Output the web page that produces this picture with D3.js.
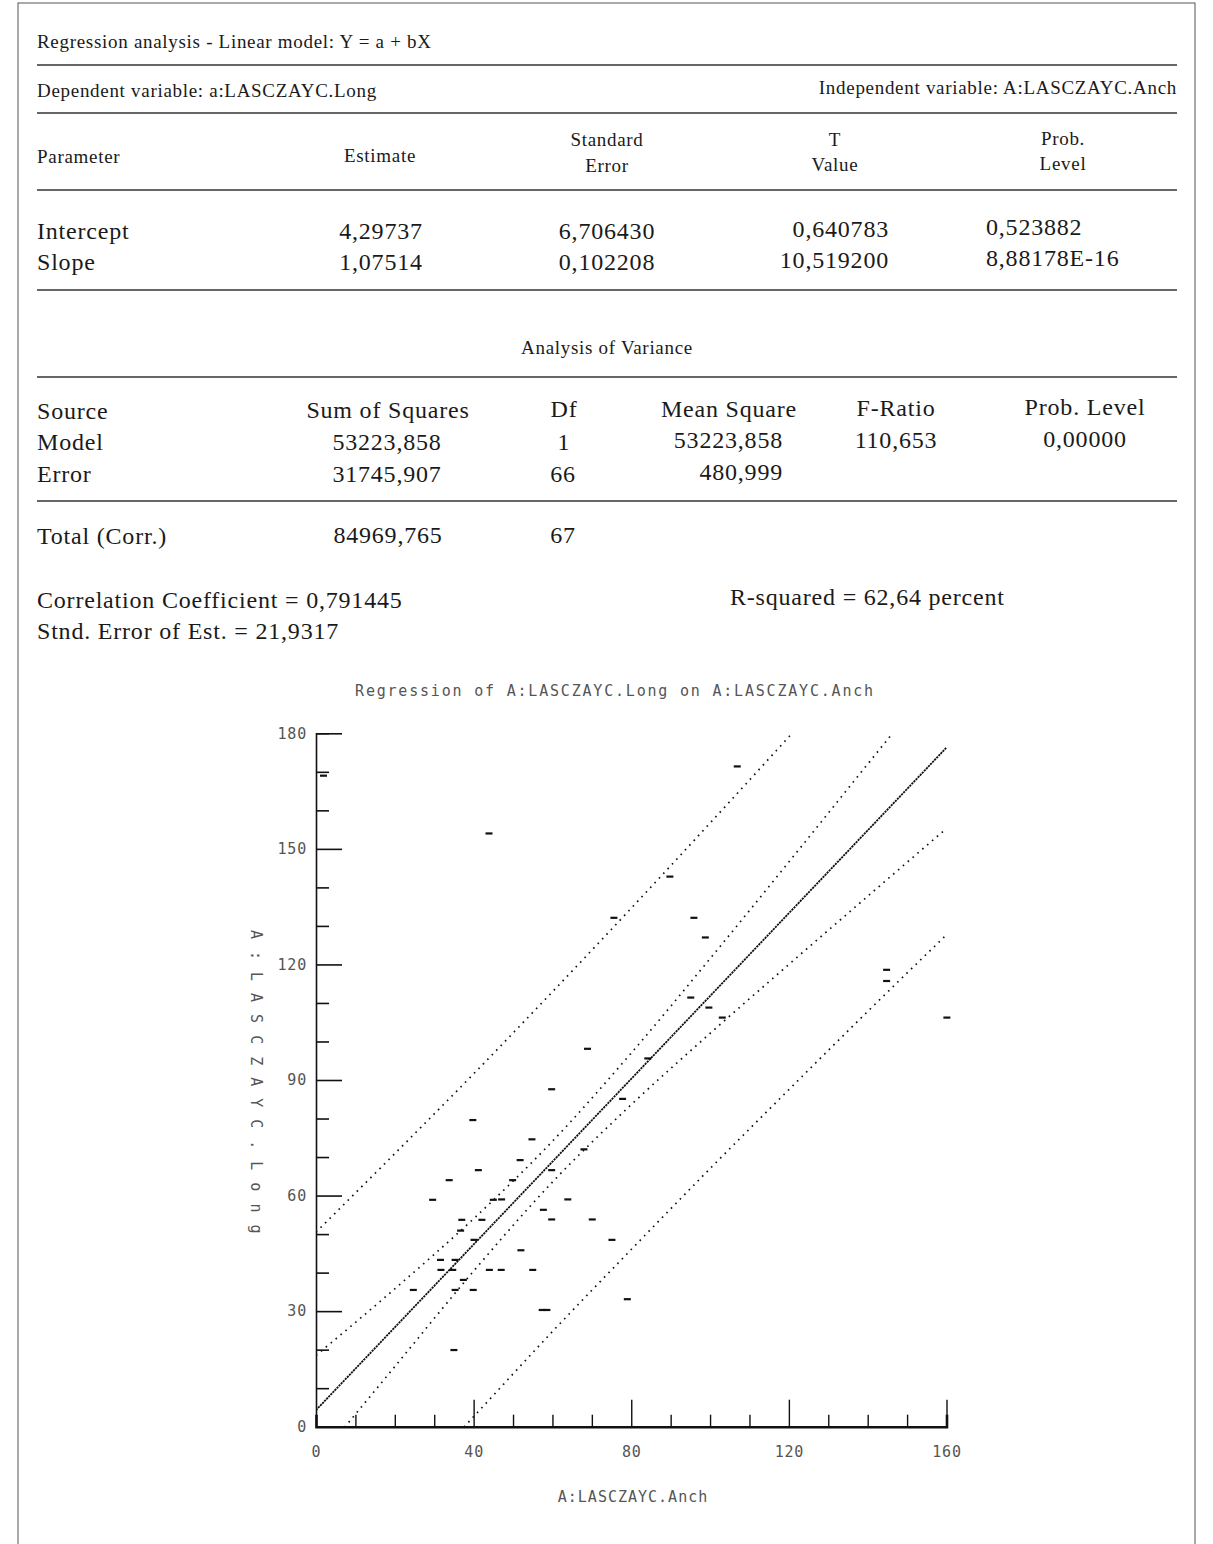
<!DOCTYPE html>
<html lang="en">
  <head>
    <title>Regression analysis</title>
    <script src="https://d3js.org/d3.v7.min.js"></script>
    <style>
      body { margin: 0; background: #fff; }
      .serif { font-family: "Liberation Serif", "DejaVu Serif", serif; fill: #1a1a1a; }
      .mono { font-family: "DejaVu Sans Mono", "Liberation Mono", monospace; fill: #555; }
      .rule { stroke: #333; stroke-width: 1.3; }
    </style>
  </head>
  <body>
    <svg id="page" width="1213" height="1544"></svg>

    <script>
      // report tables
      var paramNames = ["Intercept", "Slope"];
      var estimates = ["4,29737", "1,07514"];
      var stdErrors = ["6,706430", "0,102208"];
      var tValues = ["0,640783", "10,519200"];
      var probLevels = ["0,523882", "8,88178E-16"];

      var anovaSources = ["Model", "Error"];
      var sumSquares = ["53223,858", "31745,907"];
      var dfs = ["1", "66"];
      var meanSquares = ["53223,858", "480,999"];
      var fRatios = ["110,653", ""];
      var anovaProbs = ["0,00000", ""];

      // scatter: A:LASCZAYC.Anch (x) vs A:LASCZAYC.Long (y)
      var anch = [1.9, 43.9, 106.9, 89.8, 75.6, 95.9, 98.8, 95.1, 99.7, 103.1,
                  144.8, 144.8, 160.1, 84.2, 68.9, 59.8, 77.8, 39.8, 54.8, 51.8,
                  68.0, 59.8, 49.9, 41.2, 33.8, 29.6, 45.0, 47.1, 63.9, 57.7,
                  59.8, 70.1, 37.0, 42.1, 36.7, 40.1, 75.1, 52.0, 31.6, 35.3,
                  31.7, 34.7, 44.0, 47.0, 55.0, 37.4, 24.7, 35.3, 39.9, 79.0,
                  57.4, 58.6, 35.0];
      var long = [169.0, 154.0, 171.4, 142.8, 132.1, 132.1, 127.0, 111.4, 108.8, 106.2,
                  118.6, 115.7, 106.2, 95.6, 98.1, 87.6, 85.1, 79.6, 74.6, 69.2,
                  72.0, 66.6, 64.0, 66.6, 64.0, 58.9, 58.9, 59.0, 59.0, 56.3,
                  53.8, 53.8, 53.7, 53.7, 50.9, 48.5, 48.5, 45.8, 43.3, 43.3,
                  40.7, 40.7, 40.7, 40.7, 40.7, 38.1, 35.5, 35.5, 35.5, 33.1,
                  30.3, 30.3, 19.9];

      // fitted line and bands, read at these x positions
      var bandX = [0, 20, 40, 60, 80, 100, 120, 140, 160];
      var fitY = [4.3, 25.8, 47.3, 68.8, 90.3, 111.8, 133.3, 154.8, 176.3];
      var confUpper = [18.5, 35.8, 54.0, 74.1, 97.0, 121.5, 146.6, 172.0, 197.4];
      var confLower = [-9.1, 15.6, 40.4, 63.5, 83.6, 102.1, 120.0, 137.7, 155.3];
      var predUpper = [50.5, 70.9, 91.6, 112.9, 134.6, 156.7, 179.1, 201.8, 224.9];
      var predLower = [-41.5, -19.5, 2.6, 24.7, 46.0, 67.0, 87.5, 107.8, 127.7];

      var xTickLabels = [0, 40, 80, 120, 160];
      var yTickLabels = [0, 30, 60, 90, 120, 150, 180];

      var svg = d3.select("#page");

      // page frame
      svg.append("rect").attr("x", 18).attr("y", 3).attr("width", 1177).attr("height", 1560)
         .attr("fill", "none").attr("stroke", "#555").attr("stroke-width", 1);

      function txt(x, y, s, size, anchor) {
        var big = size > 20;
        return svg.append("text").attr("class", "serif")
                  .attr("x", x).attr("y", y)
                  .attr("font-size", big ? 24 : 19)
                  .attr("letter-spacing", big ? 0.8 : 0.7)
                  .attr("text-anchor", anchor || "start")
                  .text(s);
      }
      function rule(y) {
        svg.append("line").attr("class", "rule")
           .attr("x1", 37).attr("x2", 1177).attr("y1", y).attr("y2", y);
      }

      txt(37, 48, "Regression analysis - Linear model: Y = a + bX", 16);
      rule(65);
      txt(37, 97, "Dependent variable: a:LASCZAYC.Long", 16);
      txt(1177, 94, "Independent variable: A:LASCZAYC.Anch", 16, "end");
      rule(113);

      txt(37, 163, "Parameter", 16);
      txt(380, 162, "Estimate", 16, "middle");
      txt(607, 146, "Standard", 16, "middle");
      txt(607, 172, "Error", 16, "middle");
      txt(835, 146, "T", 16, "middle");
      txt(835, 171, "Value", 16, "middle");
      txt(1063, 145, "Prob.", 16, "middle");
      txt(1063, 170, "Level", 16, "middle");
      rule(190);

      paramNames.forEach(function(name, i) {
        var y = 239 + i * 31;
        txt(37, y, name, 22);
        txt(381, y, estimates[i], 22, "middle");
        txt(607, y, stdErrors[i], 22, "middle");
        txt(889, y - 2, tValues[i], 22, "end");
        txt(986, y - 4, probLevels[i], 22, "start");
      });
      rule(290);

      txt(607, 354, "Analysis of Variance", 16, "middle");
      rule(377);

      txt(37, 419, "Source", 22);
      txt(388, 418, "Sum of Squares", 22, "middle");
      txt(564, 417, "Df", 22, "middle");
      txt(729, 417, "Mean Square", 22, "middle");
      txt(896, 416, "F-Ratio", 22, "middle");
      txt(1085, 415, "Prob. Level", 22, "middle");
      anovaSources.forEach(function(name, i) {
        var y = 450 + i * 32;
        txt(37, y, name, 22);
        txt(387, y, sumSquares[i], 22, "middle");
        txt(564 - (i ? 1 : 0), y, dfs[i], 22, "middle");
        txt(783, y - 2, meanSquares[i], 22, "end");
        txt(896, y - 2, fRatios[i], 22, "middle");
        txt(1085, y - 3, anovaProbs[i], 22, "middle");
      });
      rule(501);
      txt(37, 544, "Total (Corr.)", 22);
      txt(388, 543, "84969,765", 22, "middle");
      txt(563, 543, "67", 22, "middle");

      txt(37, 608, "Correlation Coefficient = 0,791445", 22);
      txt(730, 605, "R-squared = 62,64 percent", 22);
      txt(37, 639, "Stnd. Error of Est. = 21,9317", 22);

      // ---- chart ----
      var x = d3.scaleLinear().domain([0, 160]).range([316, 946.5]);
      var y = d3.scaleLinear().domain([0, 180]).range([1426.7, 733.3]);

      svg.append("text").attr("class", "mono").attr("font-size", 15)
         .attr("letter-spacing", 1.8)
         .attr("x", 615).attr("y", 696).attr("text-anchor", "middle")
         .text("Regression of A:LASCZAYC.Long on A:LASCZAYC.Anch");

      svg.append("defs").append("clipPath").attr("id", "plotClip")
         .append("rect").attr("x", 316).attr("y", 733.3)
         .attr("width", 631).attr("height", 693.4);

      var plot = svg.append("g").attr("clip-path", "url(#plotClip)");

      function band(vals) {
        return d3.line().x(function(d, i) { return x(bandX[i]); })
                        .y(function(d) { return y(d); })
                        .curve(d3.curveMonotoneX)(vals);
      }
      [predUpper, predLower, confUpper, confLower].forEach(function(vals) {
        plot.append("path").attr("d", band(vals))
            .attr("fill", "none").attr("stroke", "#111")
            .attr("stroke-width", 1.7).attr("stroke-dasharray", "1.6,4.8");
      });
      plot.append("path").attr("d", band(fitY))
          .attr("fill", "none").attr("stroke", "#111")
          .attr("stroke-width", 1.8).attr("stroke-dasharray", "2.2,0.8");

      // points drawn as short dashes
      svg.append("g").selectAll("line").data(anch).enter().append("line")
         .attr("x1", function(d) { return x(d) - 3.5; })
         .attr("x2", function(d) { return x(d) + 3.5; })
         .attr("y1", function(d, i) { return y(long[i]); })
         .attr("y2", function(d, i) { return y(long[i]); })
         .attr("stroke", "#111").attr("stroke-width", 2.2);

      // y axis: ticks pointing inward
      var yAxis = svg.append("g").attr("transform", "translate(316,0)")
         .call(d3.axisRight(y).tickValues(d3.range(0, 181, 10)).tickSize(13).tickFormat(""));
      yAxis.selectAll(".tick line")
           .attr("x2", function(d) { return d % 30 === 0 && d > 0 ? 26 : 13; })
           .attr("stroke", "#111").attr("stroke-width", 1.6);
      yAxis.select(".domain").attr("stroke", "#111").attr("stroke-width", 1.6);

      svg.append("g").attr("transform", "translate(307,0)")
         .call(d3.axisLeft(y).tickValues(yTickLabels).tickSize(0).tickPadding(0))
         .call(function(g) { g.select(".domain").remove(); })
         .selectAll("text").attr("class", "mono").attr("font-size", 15)
         .attr("letter-spacing", 0.8).attr("fill", "#555");

      // x axis: ticks pointing up
      var xAxis = svg.append("g").attr("transform", "translate(0,1426.7)")
         .call(d3.axisTop(x).tickValues(d3.range(10, 161, 10)).tickSize(12).tickFormat(""));
      xAxis.selectAll(".tick line")
           .attr("y2", function(d) { return d % 40 === 0 ? -27 : -12; })
           .attr("stroke", "#111").attr("stroke-width", 1.4);
      xAxis.select(".domain").attr("stroke", "#111").attr("stroke-width", 2.6);

      svg.append("g").attr("transform", "translate(0,1446)")
         .call(d3.axisBottom(x).tickValues(xTickLabels).tickSize(0).tickPadding(0))
         .call(function(g) { g.select(".domain").remove(); })
         .selectAll("text").attr("class", "mono").attr("font-size", 15)
         .attr("letter-spacing", 0.8).attr("fill", "#555");

      svg.append("text").attr("class", "mono").attr("font-size", 15)
         .attr("letter-spacing", 1)
         .attr("x", 633).attr("y", 1502).attr("text-anchor", "middle")
         .text("A:LASCZAYC.Anch");

      svg.append("text").attr("class", "mono").attr("font-size", 15)
         .attr("letter-spacing", 12)
         .attr("transform", "translate(251,930) rotate(90)")
         .text("A:LASCZAYC.Long");
    </script>
  </body>
</html>
